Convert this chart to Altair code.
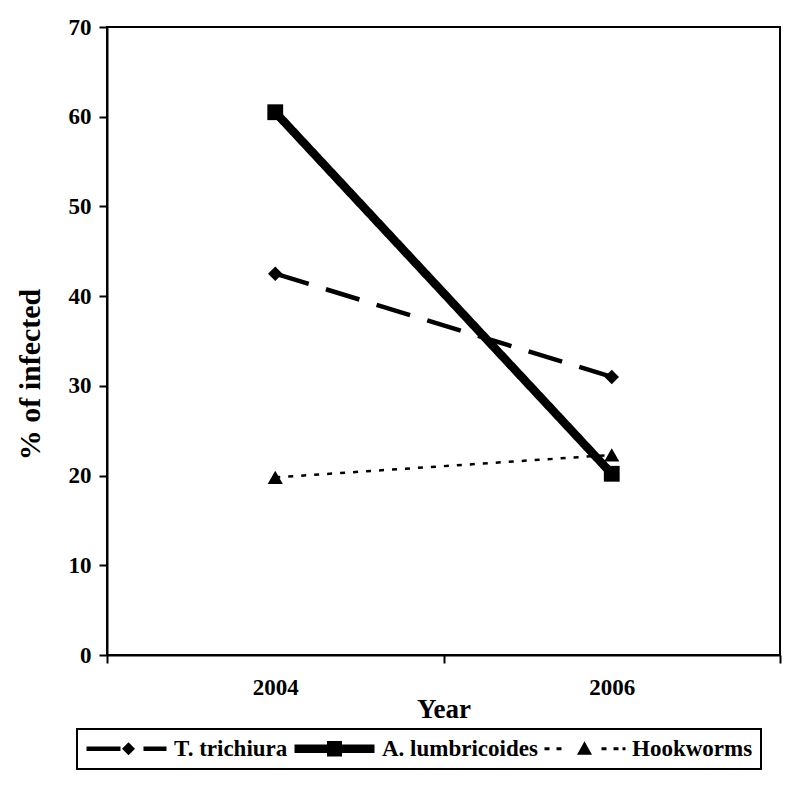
import altair as alt
import pandas as pd

years = ["2004", "2006"]
series_names = ["T. trichiura", "A. lumbricoides", "Hookworms"]
trichiura = [42.5, 31.0]
lumbricoides = [60.5, 20.2]
hookworms = [19.8, 22.3]

rows = []
for name, vals in zip(series_names, [trichiura, lumbricoides, hookworms]):
    for y, v in zip(years, vals):
        rows.append({"Year": y, "series": name, "value": v})
df = pd.DataFrame(rows)

FONT = "Liberation Serif"

x_enc = alt.X(
    "Year:N",
    scale=alt.Scale(type="band", domain=years, paddingInner=0, paddingOuter=0),
    axis=alt.Axis(
        title="Year", tickBand="extent", labelAngle=0, tickSize=8, tickWidth=2,
        domainWidth=2, domainColor="black", tickColor="black",
        labelFont=FONT, labelFontSize=23, labelFontWeight="bold", labelColor="black",
        labelPadding=13, titleFont=FONT, titleFontSize=27, titleFontWeight="bold",
        titleColor="black", titlePadding=-3, grid=False,
    ),
)
y_enc = alt.Y(
    "value:Q",
    scale=alt.Scale(domain=[0, 70], nice=False),
    axis=alt.Axis(
        title="% of infected", values=list(range(0, 71, 10)), tickSize=8, tickWidth=2,
        domainWidth=2, domainColor="black", tickColor="black",
        labelFont=FONT, labelFontSize=23, labelFontWeight="bold", labelColor="black",
        labelPadding=8, titleFont=FONT, titleFontSize=30, titleFontWeight="bold",
        titleColor="black", titleX=-77, titleY=347, titleAlign="center",
        titleBaseline="middle", grid=False,
    ),
)

dash_map = {"T. trichiura": [35, 18], "A. lumbricoides": [1, 0], "Hookworms": [5, 8]}
width_map = {"T. trichiura": 4.5, "A. lumbricoides": 8.5, "Hookworms": 2.5}
shape_map = {"T. trichiura": "diamond", "A. lumbricoides": "square", "Hookworms": "triangle-up"}
size_map = {"T. trichiura": 210, "A. lumbricoides": 250, "Hookworms": 230}

layers = []
for name in series_names:
    sub = df[df["series"] == name]
    layers.append(
        alt.Chart(sub).mark_line(
            color="black", strokeCap="butt", strokeDash=dash_map[name], strokeWidth=width_map[name]
        ).encode(x=x_enc, y=y_enc)
    )
for name in series_names:
    sub = df[df["series"] == name]
    layers.append(
        alt.Chart(sub).mark_point(
            filled=True, color="black", opacity=1, shape=shape_map[name], size=size_map[name]
        ).encode(x=x_enc, y=y_enc)
    )

# legend symbols: line + marker drawn as custom paths (1 unit = 10 px)
p_tri = ("M-1,-0.22H2.4V0.22H-1Z "
         "M3.2,-0.65L3.85,0L3.2,0.65L2.55,0Z "
         "M4.7,-0.22H7V0.22H4.7Z")
p_asc = ("M-1,-0.42H7V0.42H-1Z "
         "M2.25,-0.78H3.75V0.78H2.25Z")
p_hook = ("M-1,-0.14H-0.5V0.14H-1Z "
          "M0.2,-0.14H0.7V0.14H0.2Z "
          "M3,-0.75L3.75,0.6H2.25Z "
          "M4.7,-0.14H5.2V0.14H4.7Z "
          "M5.9,-0.14H6.4V0.14H5.9Z "
          "M6.8,-0.14H7.1V0.14H6.8Z")

legend_layer = alt.Chart(df).transform_filter("datum.value < 0").mark_point(
    filled=True, color="black", opacity=1, size=400
).encode(
    x=x_enc,
    y=y_enc,
    shape=alt.Shape(
        "series:N",
        scale=alt.Scale(domain=series_names, range=[p_tri, p_asc, p_hook]),
        legend=alt.Legend(
            title=None, orient="none", legendX=-30, legendY=702, direction="horizontal",
            columns=3, columnPadding=5, padding=8, strokeColor="black",
            labelFont=FONT, labelFontSize=23, labelFontWeight="bold", labelColor="black",
            labelOffset=66, symbolSize=400, symbolFillColor="black",
            symbolStrokeWidth=0, symbolOpacity=1, labelLimit=300,
        ),
    ),
)
layers.append(legend_layer)

chart = alt.layer(*layers).properties(
    width=673, height=628,
    padding={"left": 99, "top": 19, "right": 5, "bottom": 120},
    autosize=alt.AutoSizeParams(type="none"),
).configure_view(
    stroke="black", strokeWidth=2
).configure_legend(
    strokeWidth=2
)

chart.save("out.html", embed_options={"renderer": "svg", "actions": False})
